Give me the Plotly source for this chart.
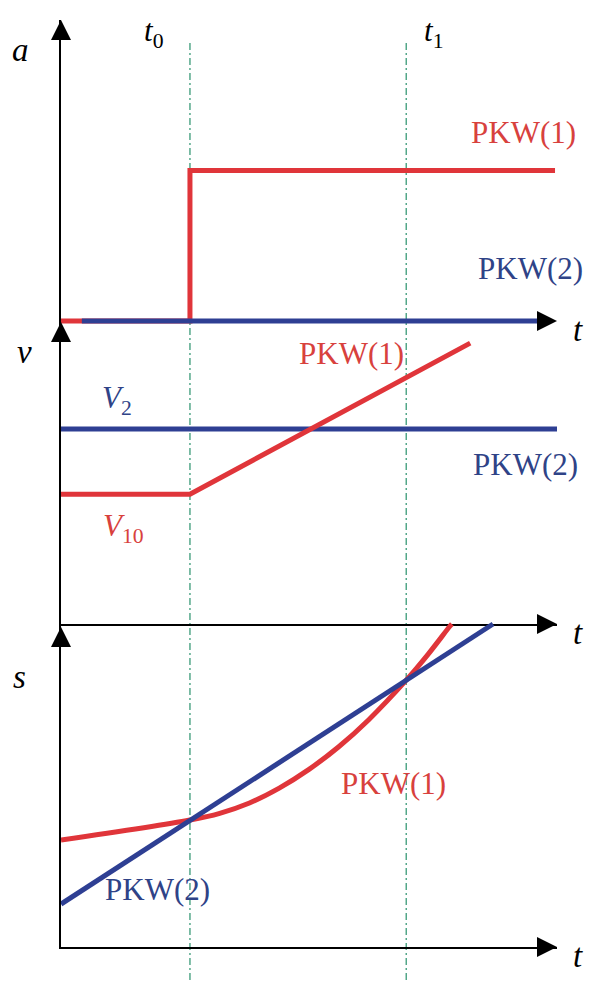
import plotly.graph_objects as go

# ---------------- data (time in arbitrary units) ----------------
t_marks = [2.6, 6.96]            # t0, t1

# acceleration panel
a1_t = [0.0, 2.6, 2.6, 9.96]
a1_v = [0.0, 0.0, 0.5, 0.5]      # PKW(1)
a2_t = [0.42, 9.6]
a2_v = [0.0, 0.0]                # PKW(2)

# velocity panel
v1_t = [0.0, 2.6, 8.25]
v1_v = [0.43, 0.43, 0.93]        # PKW(1): V10 then accelerating
v2_t = [0.0, 10.0]
v2_v = [0.646, 0.646]            # PKW(2): V2

# displacement panel
s1_t = [0.0, 2.6, 3.2, 3.8, 4.4, 5.0, 5.6, 6.2, 6.96, 7.4, 7.84, 7.88]
s1_v = [0.331, 0.393, 0.414, 0.446, 0.492, 0.550, 0.620, 0.703, 0.826, 0.906, 0.993, 1.0]
s2_t = [0.0, 8.71]
s2_v = [0.133, 1.0]

RED = "#e0353a"
BLUE = "#2e3f93"
RED_TXT = "#d8413d"
BLUE_TXT = "#2f4387"
GREEN = "#3a9a78"
FONT = "'Liberation Serif', 'Times New Roman', Times, serif"
LW = 5

W, H = 602, 983
XL, XR = 61, 557


def px(x, y):
    return x / W, 1 - y / H


fig = go.Figure()

fig.add_trace(go.Scatter(x=a1_t, y=a1_v, mode="lines", line=dict(color=RED, width=LW),
                         xaxis="x", yaxis="y", hoverinfo="skip"))
fig.add_trace(go.Scatter(x=a2_t, y=a2_v, mode="lines", line=dict(color=BLUE, width=LW),
                         xaxis="x", yaxis="y", hoverinfo="skip"))
fig.add_trace(go.Scatter(x=v2_t, y=v2_v, mode="lines", line=dict(color=BLUE, width=LW),
                         xaxis="x2", yaxis="y2", hoverinfo="skip"))
fig.add_trace(go.Scatter(x=v1_t, y=v1_v, mode="lines", line=dict(color=RED, width=LW),
                         xaxis="x2", yaxis="y2", hoverinfo="skip"))
fig.add_trace(go.Scatter(x=s1_t, y=s1_v, mode="lines", line=dict(color=RED, width=LW, shape="spline"),
                         xaxis="x3", yaxis="y3", hoverinfo="skip"))
fig.add_trace(go.Scatter(x=s2_t, y=s2_v, mode="lines", line=dict(color=BLUE, width=LW),
                         xaxis="x3", yaxis="y3", hoverinfo="skip"))

xdom = [XL / W, XR / W]
common_x = dict(domain=xdom, range=[0, 10], showgrid=False, zeroline=False,
                showticklabels=False, ticks="", fixedrange=True)
axis_line = dict(showline=True, linecolor="black", linewidth=1.8)


def ydom(py_bottom, py_top):
    return [1 - py_bottom / H, 1 - py_top / H]


# panel a: a=0 at py 321, a=1 at py 20, domain extended a bit below zero
a_bottom = 330
a_lo = -(a_bottom - 321) / (321 - 20)
# panel s: s=0 at py 947, s=1 at py 624, domain extended a bit above 1
s_top = 619
s_hi = (947 - s_top) / (947 - 624)

fig.update_layout(
    width=W, height=H,
    margin=dict(l=0, r=0, t=0, b=0),
    paper_bgcolor="white", plot_bgcolor="rgba(0,0,0,0)",
    showlegend=False,
    xaxis=dict(**common_x, anchor="y", visible=False),
    xaxis2=dict(**common_x, anchor="y2", **axis_line, matches="x"),
    xaxis3=dict(**common_x, anchor="y3", **axis_line, matches="x"),
    yaxis=dict(domain=ydom(a_bottom, 20), range=[a_lo, 1], showgrid=False, zeroline=False,
               showticklabels=False, ticks="", anchor="x", **axis_line),
    yaxis2=dict(domain=ydom(624, 322), range=[0, 1], showgrid=False, zeroline=False,
                showticklabels=False, ticks="", anchor="x2", **axis_line),
    yaxis3=dict(domain=ydom(947, s_top), range=[0, s_hi], showgrid=False, zeroline=False,
                showticklabels=False, ticks="", anchor="x3", **axis_line),
)

# vertical dash-dot markers at t0 and t1
for tm in t_marks:
    fig.add_shape(type="line", xref="x", yref="paper", x0=tm, x1=tm,
                  y0=1 - 980 / H, y1=1 - 40 / H, layer="below",
                  line=dict(color=GREEN, width=1.3, dash="7px,3px,2px,3px"))

# axis arrowheads
for (tx, ty, dx, dy) in [(XL, 20, 0, 20), (XL, 322, 0, 20), (XL, 627, 0, 20),
                         (XR, 321, -20, 0), (XR, 624, -20, 0), (XR, 947, -20, 0)]:
    x, y = px(tx, ty)
    fig.add_annotation(x=x, y=y, xref="paper", yref="paper", text="", showarrow=True,
                       arrowhead=2, arrowsize=2.5, arrowwidth=1.6, arrowcolor="black",
                       ax=dx, ay=dy, standoff=0)


def label(text, x, y, color="black", size=31):
    xx, yy = px(x, y)
    fig.add_annotation(x=xx, y=yy, xref="paper", yref="paper", text=text, showarrow=False,
                       xanchor="center", yanchor="middle",
                       font=dict(family=FONT, size=size, color=color))


label("<i>a</i>", 20, 50, size=33)
label("<i>v</i>", 24, 352, size=33)
label("<i>s</i>", 19, 677, size=33)
label("<i>t</i><sub>0</sub>", 154, 33, size=31)
label("<i>t</i><sub>1</sub>", 434, 33, size=31)
label("<i>t</i>", 578, 330, size=33)
label("<i>t</i>", 578, 633, size=33)
label("<i>t</i>", 578, 956, size=33)

label("PKW(1)", 523, 133, RED_TXT)
label("PKW(2)", 530, 268, BLUE_TXT)
label("PKW(1)", 351, 353, RED_TXT)
label("PKW(2)", 525, 465, BLUE_TXT)
label("PKW(1)", 393, 783, RED_TXT)
label("PKW(2)", 157, 889, BLUE_TXT)
label("<i>V</i><sub>2</sub>", 117, 400, BLUE_TXT, size=31)
label("<i>V</i><sub>10</sub>", 123, 528, RED_TXT, size=31)

fig.write_html("out.html", config={"displayModeBar": False},
               post_script="document.body.style.margin='0';document.body.style.overflow='hidden';")
